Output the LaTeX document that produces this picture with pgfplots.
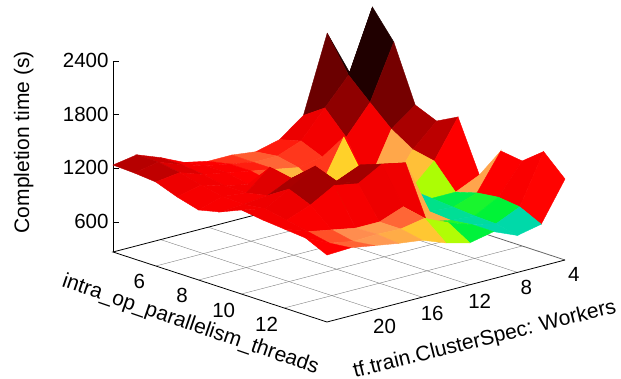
\documentclass[border=0pt]{standalone}
\usepackage{fontspec}
\setmainfont{Liberation Sans}
\usepackage{pgfplots}
\pgfplotsset{compat=1.18}
\usetikzlibrary{calc}
\begin{document}
\begin{tikzpicture}
\begin{axis}[
  x={(21.4pt,-7pt)}, y={(-11.9pt,-3.1pt)}, z={(0pt,0.0893pt)},
  xmin=4, xmax=14, ymin=4, ymax=24, zmin=264, zmax=2400,
  clip=false,
  axis line style={draw=none},
  xtick={6,8,10,12}, ytick={4,8,12,16,20}, ztick={600,1200,1800,2400},
  xtick pos=lower, ytick pos=lower, ztick pos=left,
  x tick style={draw=none}, y tick style={draw=none}, z tick style={draw=none},
  tick label style={font=\fontsize{20.5}{24}\selectfont, /pgf/number format/assume math mode=true, /pgf/number format/1000 sep={}},
  x tick label style={xshift=-8pt, yshift=-4pt},
  y tick label style={xshift=1pt, yshift=-4pt},
  z tick label style={xshift=-1pt},
  xlabel={intra\_op\_parallelism\_threads},
  ylabel={tf.train.ClusterSpec: Workers},
  zlabel={Completion time (s)},
  label style={font=\fontsize{21}{24}\selectfont},
  xlabel style={at={(axis cs:11.4,30.8,264)}, anchor=center, rotate=-19, sloped=false},
  ylabel style={at={(axis cs:18.7,19.2,264)}, anchor=center, rotate=14, sloped=false},
  zlabel style={at={(axis cs:4,31.5,1754)}, anchor=center, sloped=false},
  colormap={timepal}{
    rgb255=(0,190,255) rgb255=(0,205,215) rgb255=(0,222,150) rgb255=(0,243,55)
    rgb255=(135,252,8) rgb255=(255,255,0) rgb255=(255,188,60) rgb255=(255,150,85)
    rgb255=(255,80,40) rgb255=(255,0,0) rgb255=(251,0,0) rgb255=(247,0,0)
    rgb255=(244,0,0) rgb255=(235,0,0) rgb255=(190,0,0) rgb255=(170,0,0)
    rgb255=(165,0,0) rgb255=(160,0,0) rgb255=(150,0,0) rgb255=(140,0,0)
    rgb255=(130,0,0) rgb255=(115,0,0) rgb255=(105,0,0) rgb255=(75,0,0)
    rgb255=(60,0,0) rgb255=(48,0,0) rgb255=(36,0,0) rgb255=(24,0,0)
    rgb255=(12,0,0) rgb255=(4,0,0) rgb255=(0,0,0)},
  point meta min=680, point meta max=1880,
]
% base grid
\addplot3[gray, no marks] coordinates {(6,4,264) (6,24,264)};
\addplot3[gray, no marks] coordinates {(8,4,264) (8,24,264)};
\addplot3[gray, no marks] coordinates {(10,4,264) (10,24,264)};
\addplot3[gray, no marks] coordinates {(12,4,264) (12,24,264)};
\addplot3[gray, no marks] coordinates {(4,8,264) (14,8,264)};
\addplot3[gray, no marks] coordinates {(4,12,264) (14,12,264)};
\addplot3[gray, no marks] coordinates {(4,16,264) (14,16,264)};
\addplot3[gray, no marks] coordinates {(4,20,264) (14,20,264)};
\addplot3[black!60, line width=0.8pt, no marks] coordinates {(14,4,264) (4,4,264)};
\addplot3[black, line width=0.8pt, no marks] coordinates {(4,4,264) (4,24,264) (14,24,264) (14,4,264)};
\addplot3[black, line width=0.8pt, no marks] coordinates {(4,24,264) (4,24,2400)};
% z ticks
\addplot3[black, line width=0.8pt, no marks] coordinates {(4,24,600) (4.124,23.72,600)};
\addplot3[black, line width=0.8pt, no marks] coordinates {(4,24,1200) (4.124,23.72,1200)};
\addplot3[black, line width=0.8pt, no marks] coordinates {(4,24,1800) (4.124,23.72,1800)};
\addplot3[black, line width=0.8pt, no marks] coordinates {(4,24,2400) (4.124,23.72,2400)};
% surface, back rows first so nearer faces are painted last
\addplot3[surf, shader=flat, mesh/rows=11, z buffer=none, point meta=z] coordinates {
(4,4,1552) (4,6,2090) (4,8,1238) (4,10,1037) (4,12,970) (4,14,1003) (4,16,1003) (4,18,1059) (4,20,1182) (4,22,1283) (4,24,1238)

(5,4,2392) (5,6,1698) (5,8,1400) (5,10,1100) (5,12,1000) (5,14,1000) (5,16,1050) (5,18,1100) (5,20,1180) (5,22,1280) (5,24,1227)

(6,4,2078) (6,6,1470) (6,8,1150) (6,10,1000) (6,12,950) (6,14,1000) (6,16,1050) (6,18,1100) (6,20,1150) (6,22,1240) (6,24,1205)

(7,4,1451) (7,6,1250) (7,8,700) (7,10,1300) (7,12,800) (7,14,950) (7,16,1000) (7,18,1050) (7,20,1100) (7,22,1180) (7,24,1115)

(8,4,1350) (8,6,1100) (8,8,720) (8,10,850) (8,12,650) (8,14,880) (8,16,960) (8,18,1317) (8,20,1100) (8,22,1130) (8,24,1048)

(9,4,1474) (9,6,1050) (9,8,800) (9,10,700) (9,12,680) (9,14,1000) (9,16,1339) (9,18,1272) (9,20,1150) (9,22,1120) (9,24,1104)

(10,4,902) (10,6,780) (10,8,780) (10,10,740) (10,12,760) (10,14,1362) (10,16,1250) (10,18,1450) (10,20,1300) (10,22,1150) (10,24,1205)

(11,4,1250) (11,6,850) (11,8,760) (11,10,780) (11,12,1395) (11,14,1450) (11,16,1300) (11,18,1350) (11,20,1200) (11,22,1100) (11,24,1171)

(12,4,1216) (12,6,880) (12,8,740) (12,10,760) (12,12,813) (12,14,1050) (12,16,950) (12,18,950) (12,20,1000) (12,22,1050) (12,24,1149)

(13,4,1400) (13,6,850) (13,8,730) (13,10,790) (13,12,880) (13,14,1000) (13,16,950) (13,18,960) (13,20,950) (13,22,1000) (13,24,1126)

(14,4,1171) (14,6,734) (14,8,678) (14,10,790) (14,12,734) (14,14,802) (14,16,902) (14,18,936) (14,20,981) (14,22,1026) (14,24,1014)
};
\coordinate (L) at (axis cs:4,24,264);
\end{axis}
\pgfresetboundingbox
\path[use as bounding box] ($(L)+(-113pt,252pt)$) rectangle ($(L)+(508pt,-127pt)$);
\end{tikzpicture}
\end{document}
